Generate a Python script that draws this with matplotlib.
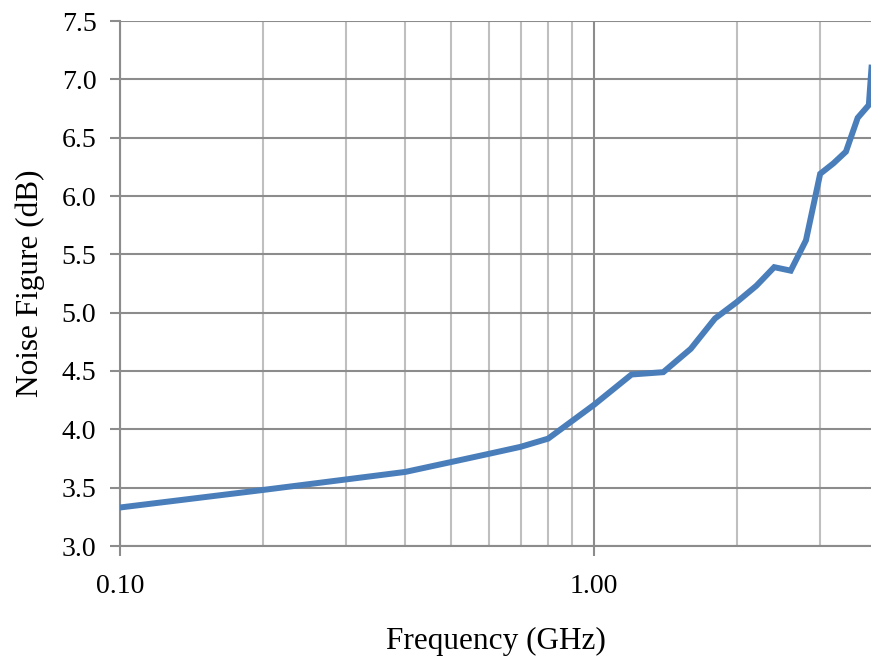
import matplotlib
matplotlib.use("Agg")
import matplotlib.pyplot as plt
from matplotlib.ticker import FixedLocator, NullFormatter, FuncFormatter

freq_ghz = [0.1, 0.2, 0.4, 0.5, 0.6, 0.7, 0.8, 1.0, 1.2, 1.4, 1.6, 1.8, 2.0,
            2.2, 2.4, 2.6, 2.8, 3.0, 3.2, 3.4, 3.6, 3.8, 3.85]
noise_db = [3.33, 3.48, 3.635, 3.72, 3.79, 3.85, 3.92, 4.21, 4.47, 4.49, 4.69,
            4.95, 5.09, 5.23, 5.39, 5.36, 5.62, 6.19, 6.28, 6.38, 6.67, 6.78, 7.10]
y_ticks = [3.0, 3.5, 4.0, 4.5, 5.0, 5.5, 6.0, 6.5, 7.0, 7.5]
x_major = [0.1, 1.0]
x_minor = [0.2, 0.3, 0.4, 0.5, 0.6, 0.7, 0.8, 0.9, 2.0, 3.0]

plt.rcParams['font.family'] = ['Liberation Serif', 'DejaVu Serif']

fig = plt.figure(figsize=(8.71, 6.58), dpi=100)
ax = fig.add_axes([120/871, 1 - 546/658, 1 - 120/871, (546 - 21)/658])

ax.set_xscale('log')
ax.set_xlim(0.1, 10 ** ((871 - 594) / 474))
ax.set_ylim(3.0, 7.5)

ax.xaxis.set_major_locator(FixedLocator(x_major))
ax.xaxis.set_minor_locator(FixedLocator(x_minor))
ax.xaxis.set_major_formatter(FuncFormatter(lambda v, p: f"{v:.2f}"))
ax.xaxis.set_minor_formatter(NullFormatter())
ax.set_yticks(y_ticks)
ax.yaxis.set_major_formatter(FuncFormatter(lambda v, p: f"{v:.1f}"))

ax.grid(True, which='major', axis='both', color='#8c8c8c', linewidth=1.5)
ax.grid(True, which='minor', axis='x', color='#bfbfbf', linewidth=1.5)
ax.set_axisbelow(True)

ax.plot(freq_ghz, noise_db, color='#4a7ebb', linewidth=4.3, solid_joinstyle='miter', zorder=3)

for s in ['top', 'right']:
    ax.spines[s].set_visible(False)
for s in ['left', 'bottom']:
    ax.spines[s].set_color('#8c8c8c')
    ax.spines[s].set_linewidth(1.5)

ax.tick_params(axis='y', which='major', direction='out', length=7, width=1.5,
               color='#8c8c8c', labelsize=20, pad=10)
ax.tick_params(axis='x', which='major', direction='out', length=7, width=1.5,
               color='#8c8c8c', labelsize=20, pad=13)
ax.tick_params(axis='x', which='minor', length=0)

ax.set_xlabel('Frequency (GHz)', fontsize=22.5, labelpad=20)
ax.set_ylabel('Noise Figure (dB)', fontsize=22.5, labelpad=12)

fig.savefig('out.png', dpi=100)
